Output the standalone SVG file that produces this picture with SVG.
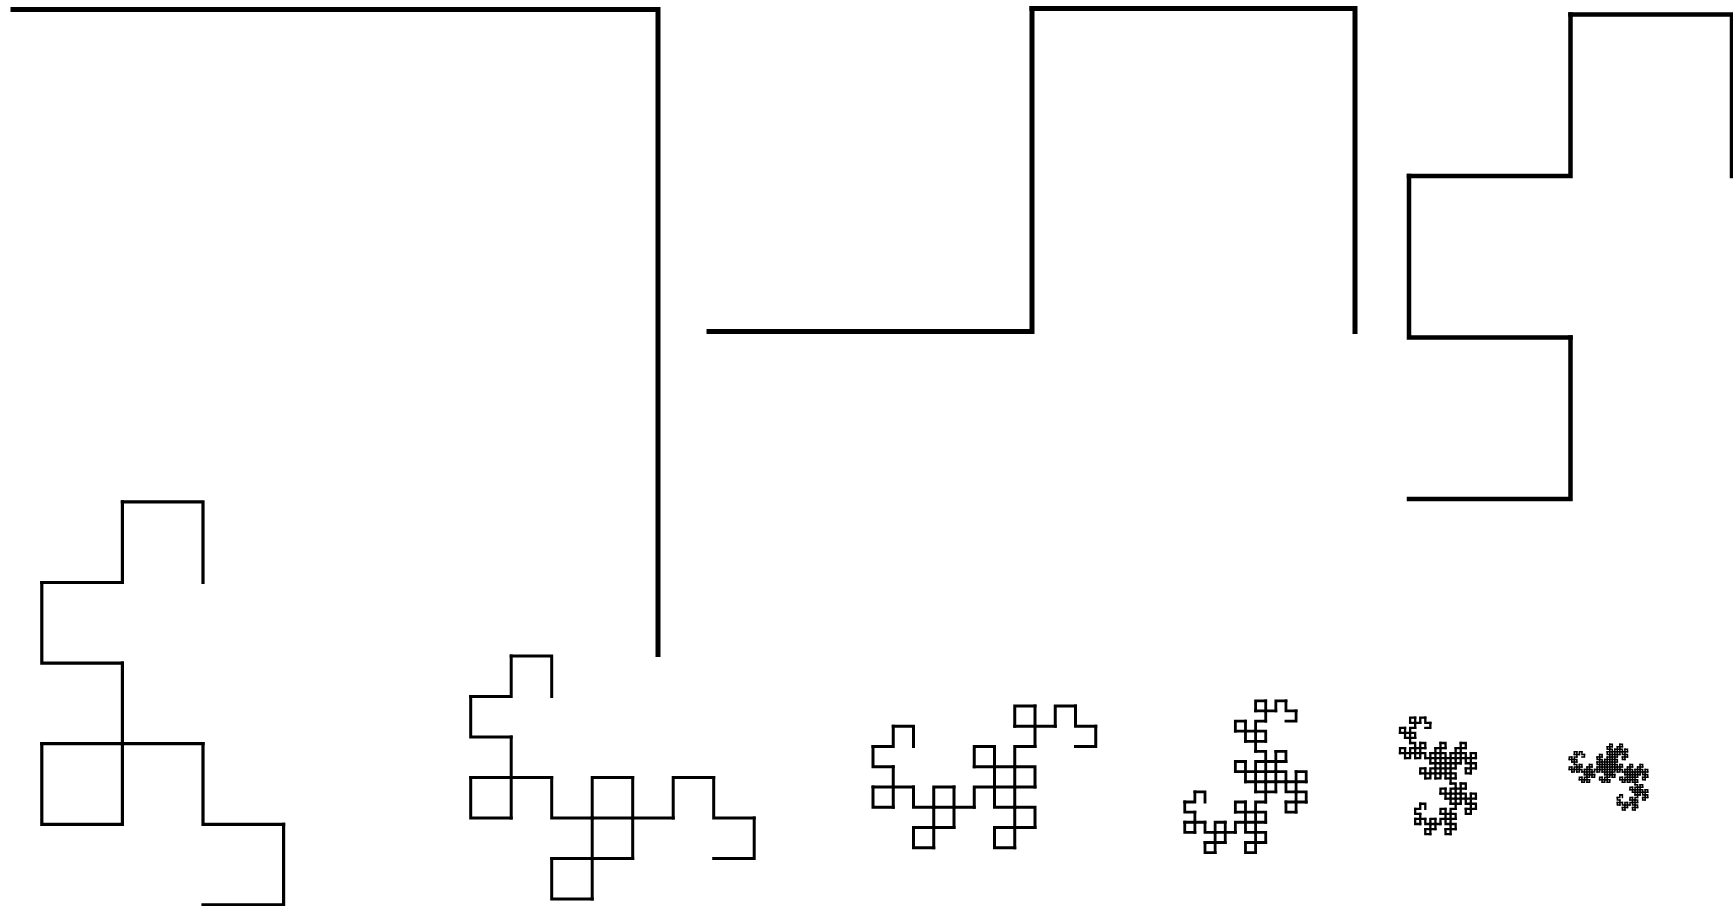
<svg xmlns="http://www.w3.org/2000/svg" xmlns:xlink="http://www.w3.org/1999/xlink" width="1733" height="906" viewBox="0 0 1733 906">
<style>
.seg { fill: none; stroke: #000; stroke-linecap: square; stroke-linejoin: miter; }
</style>
<defs>
<path id="d1" class="seg" d="M0,0 V-1 H-1"/>
<g id="d2"><use href="#d1"/><use href="#d1" transform="rotate(90,-1,-1)"/></g>
<g id="d3"><use href="#d2"/><use href="#d2" transform="rotate(90,-2,0)"/></g>
<g id="d4"><use href="#d3"/><use href="#d3" transform="rotate(90,-2,2)"/></g>
<g id="d5"><use href="#d4"/><use href="#d4" transform="rotate(90,0,4)"/></g>
<g id="d6"><use href="#d5"/><use href="#d5" transform="rotate(90,4,4)"/></g>
<g id="d7"><use href="#d6"/><use href="#d6" transform="rotate(90,8,0)"/></g>
<g id="d8"><use href="#d7"/><use href="#d7" transform="rotate(90,8,-8)"/></g>
<g id="d9"><use href="#d8"/><use href="#d8" transform="rotate(90,0,-16)"/></g>
</defs>
<rect width="1733" height="906" fill="#fff"/>
<g id="order1"><use href="#d1" transform="translate(658,654.5) scale(645)" style="stroke-width:0.00775"/></g>
<g id="order2"><use href="#d2" transform="translate(1355,331.5) scale(323)" style="stroke-width:0.01548"/></g>
<g id="order3"><use href="#d3" transform="translate(1732,176) scale(161.5)" style="stroke-width:0.0279"/></g>
<g id="order4"><use href="#d4" transform="translate(203,582.5) scale(80.6)" style="stroke-width:0.0397"/></g>
<g id="order5"><use href="#d5" transform="translate(551.7,696.5) scale(40.5)" style="stroke-width:0.0741"/></g>
<g id="order6"><use href="#d6" transform="translate(913.5,746.5) scale(20.25)" style="stroke-width:0.148"/></g>
<g id="order7"><use href="#d7" transform="translate(1205,802) scale(10.12)" style="stroke-width:0.277"/></g>
<g id="order8"><use href="#d8" transform="translate(1425.3,808.8) scale(5.06)" style="stroke-width:0.455"/></g>
<g id="order9"><use href="#d9" transform="translate(1622.4,797.4) scale(2.53)" style="stroke-width:0.6"/></g>
</svg>
